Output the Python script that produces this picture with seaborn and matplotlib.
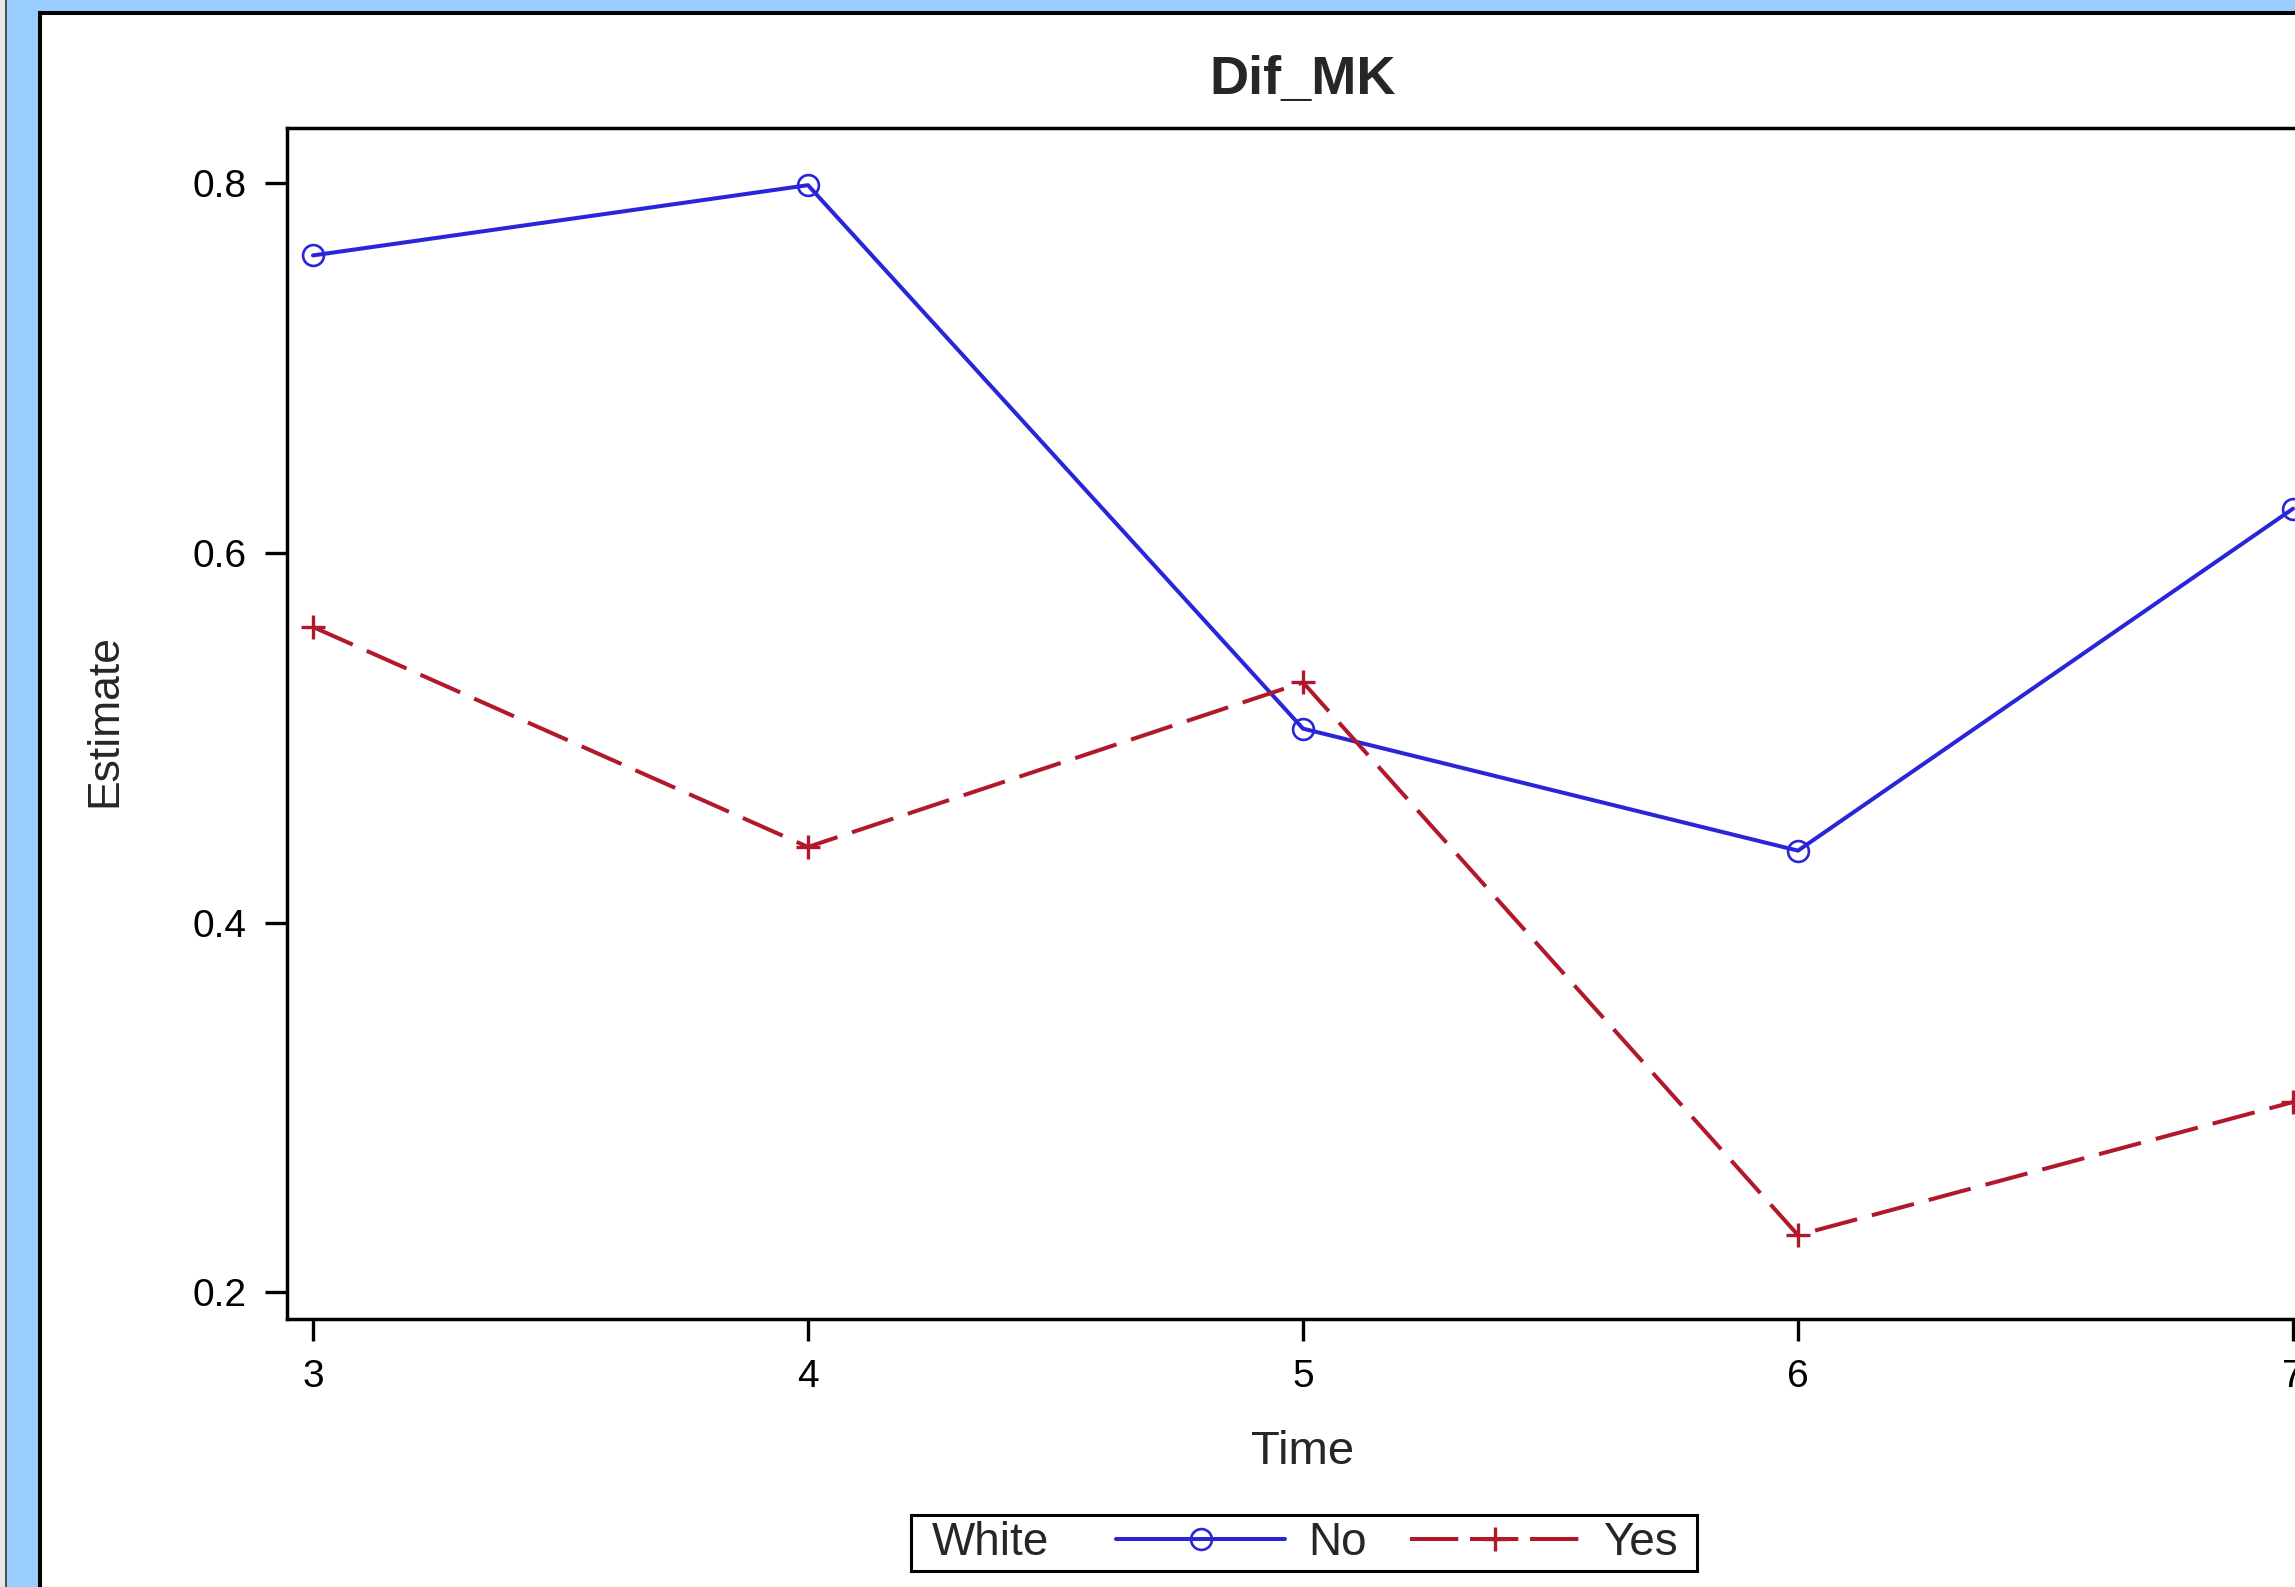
import pandas as pd
import matplotlib
matplotlib.use("Agg")
import matplotlib.pyplot as plt
import seaborn as sns
from matplotlib.lines import Line2D
from matplotlib.patches import Rectangle
from matplotlib.offsetbox import HPacker, DrawingArea

# Data
times = [3, 4, 5, 6, 7]
est_no = [0.761, 0.799, 0.505, 0.439, 0.624]
est_yes = [0.560, 0.441, 0.530, 0.231, 0.303]
groups = ["No", "Yes"]
y_ticks = [0.2, 0.4, 0.6, 0.8]

BLUE = "#2A25D9"
RED = "#B2182B"
MARKERS = {"No": "o", "Yes": "+"}
LW = 2.9
W, H = 2295, 1587  # figure size in pixels


def px_x(x):
    return x / W


def px_y(y):
    # pixel measured from the top -> figure fraction
    return 1 - y / H


def main():
    df = pd.DataFrame({
        "Time": times * 2,
        "Estimate": est_no + est_yes,
        "White": ["No"] * len(times) + ["Yes"] * len(times),
    })

    sns.set_style("ticks")
    plt.rcParams["font.family"] = ["Liberation Sans", "DejaVu Sans"]

    fig = plt.figure(figsize=(W / 100, H / 100), dpi=100)
    fig.patch.set_facecolor("#99CCFF")

    # window frame: grey edge, light blue border, white panel with black outline
    fig.add_artist(Rectangle((0, 0), px_x(5), 1, transform=fig.transFigure,
                             facecolor="#E6E6E6", edgecolor="none", zorder=-3))
    fig.add_artist(Rectangle((px_x(5), 0), px_x(2), 1, transform=fig.transFigure,
                             facecolor="#505050", edgecolor="none", zorder=-3))
    fig.add_artist(Rectangle((px_x(40), -0.05), 1.0, px_y(13.5) + 0.05,
                             transform=fig.transFigure, facecolor="white",
                             edgecolor="black", linewidth=2.9, zorder=-2,
                             clip_on=False))

    # axes run past the right edge of the picture, as in the screenshot
    left, right, top, bottom = 286.5, 2319.5, 127.5, 1318.5
    ax = fig.add_axes([px_x(left), px_y(bottom), (right - left) / W, (bottom - top) / H])
    ax.set_facecolor("white")

    sns.lineplot(data=df, x="Time", y="Estimate", hue="White", style="White",
                 hue_order=groups, style_order=groups,
                 palette={"No": BLUE, "Yes": RED},
                 dashes={"No": "", "Yes": (10.8, 3.8)},
                 errorbar=None, legend=False, ax=ax)

    # open circle / plus markers (seaborn will not mix these itself)
    for line, g in zip(ax.lines, groups):
        c = line.get_color()
        line.set_linewidth(LW)
        line.set_marker(MARKERS[g])
        line.set_markerfacecolor("none")
        line.set_markeredgecolor(c)
        line.set_markersize(15 if g == "No" else 17)
        line.set_markeredgewidth(1.9 if g == "No" else 2.4)

    ax.set_xlim(2.9465, 7.0535)
    ax.set_ylim(0.1859, 0.8302)
    ax.set_xticks(times)
    ax.set_yticks(y_ticks)
    ax.set_xticklabels([str(t) for t in times])
    ax.set_yticklabels([f"{v:.1f}" for v in y_ticks])

    for s in ax.spines.values():
        s.set_linewidth(2.5)
        s.set_color("black")
        s.set_visible(True)
    ax.tick_params(axis="both", direction="out", length=15.5, width=2.4,
                   color="black", labelsize=28, labelcolor="black")
    ax.tick_params(axis="x", pad=14)
    ax.tick_params(axis="y", pad=13)

    ax.set_title("Dif_MK", fontsize=39, fontweight="bold", pad=24)
    ax.set_xlabel("Time", fontsize=34)
    ax.set_ylabel("Estimate", fontsize=32)
    ax.xaxis.set_label_coords(0.5, -0.0935)
    ax.yaxis.set_label_coords(-0.0795, 0.5025)

    # legend: title "White" sits to the left of the entries, inside one box
    handles = [
        Line2D([], [], color=BLUE, lw=LW, marker="o", markersize=15,
               markerfacecolor="none", markeredgecolor=BLUE, markeredgewidth=1.9),
        Line2D([], [], color=RED, lw=LW, marker="+", markersize=17,
               markeredgewidth=2.4, dashes=(12.0, 2.9)),
    ]
    leg = ax.legend(handles, groups, title="White", ncol=2, fontsize=33,
                    title_fontsize=33, handlelength=3.7, handletextpad=0.5,
                    columnspacing=0.95, borderpad=0.05, frameon=True,
                    fancybox=False, edgecolor="black", facecolor="white",
                    framealpha=1, loc="center",
                    bbox_to_anchor=(px_x(1304), px_y(1543)),
                    bbox_transform=fig.transFigure)
    leg.get_frame().set_linewidth(2.2)
    vbox = leg._legend_box
    title_box, entries_box = vbox.get_children()
    hbox = HPacker(pad=4, sep=0, align="center",
                   children=[DrawingArea(11, 1), title_box, DrawingArea(48, 1),
                             entries_box, DrawingArea(10, 1)])
    hbox.set_figure(fig)
    hbox.axes = ax
    hbox.set_offset(leg._findoffset)
    leg._legend_box = hbox

    fig.savefig("out.png", dpi=100, facecolor=fig.get_facecolor())


if __name__ == "__main__":
    main()
